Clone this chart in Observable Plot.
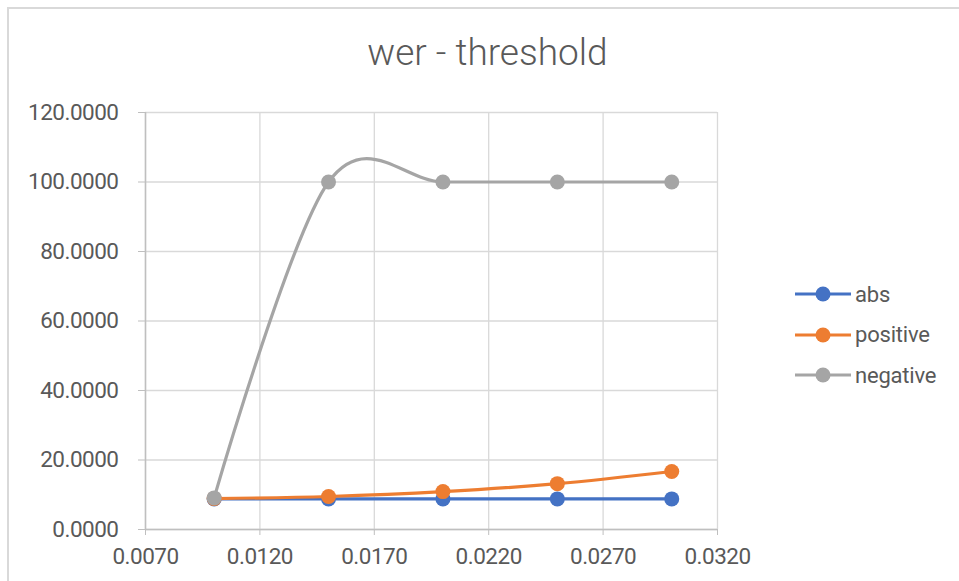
<!DOCTYPE html>
<html>
<head>
<meta charset="utf-8">
<script src="https://cdn.jsdelivr.net/npm/d3@7"></script>
<script src="https://cdn.jsdelivr.net/npm/@observablehq/plot@0.6"></script>
<style>
  html, body { margin: 0; padding: 0; background: #fff; }
  #wrap { position: relative; width: 959px; height: 581px; overflow: hidden; font-family: Roboto, "Noto Sans", sans-serif; }
  #frame { position: absolute; left: 7px; top: 7px; width: 1000px; height: 1000px; border-top: 2px solid #d9d9d9; border-left: 2px solid #d9d9d9; box-sizing: border-box; pointer-events: none; }
  #title { position: absolute; left: 0; width: 975px; top: 34px; line-height: 37px; text-align: center; font-size: 37px; color: #595959; font-weight: 300; }
  #legend { position: absolute; left: 795px; top: 274px; }
  .item { display: flex; align-items: center; height: 40.5px; font-size: 22px; color: #595959; letter-spacing: -0.2px; }
  .item svg { margin-right: 4px; }
  #chart { position: absolute; left: 0; top: 0; }
  #chart svg text { letter-spacing: -0.5px; }
</style>
</head>
<body>
<div id="wrap">
  <div id="chart"></div>
  <div id="frame"></div>
  <div id="title">wer - threshold</div>
  <div id="legend"></div>
</div>
<script>
const thresholds = [0.010, 0.015, 0.020, 0.025, 0.030];
const absValues = [8.8, 8.8, 8.8, 8.8, 8.8];
const positiveValues = [8.9, 9.5, 10.9, 13.2, 16.7];
const negativeValues = [9.1, 100, 100, 100, 100];
const seriesNames = ["abs", "positive", "negative"];
const seriesColors = ["#4472C4", "#ED7D31", "#A5A5A5"];
const xTicks = [0.007, 0.012, 0.017, 0.022, 0.027, 0.032];
const yTicks = [0, 20, 40, 60, 80, 100, 120];

const allSeries = [absValues, positiveValues, negativeValues];
const data = allSeries.flatMap((vals, i) =>
  vals.map((v, j) => ({series: seriesNames[i], x: thresholds[j], y: v}))
);

const marks = [
  Plot.gridX(xTicks, {stroke: "#d9d9d9", strokeOpacity: 1, strokeWidth: 1.3}),
  Plot.gridY(yTicks, {stroke: "#d9d9d9", strokeOpacity: 1, strokeWidth: 1.3}),
  Plot.axisX({ticks: xTicks, tickFormat: d3.format(".4f"), tickSize: 6, tickPadding: 13, stroke: "#bfbfbf", fill: "#595959", fontSize: 22.5, label: null}),
  Plot.axisY({ticks: yTicks, tickFormat: d3.format(".4f"), tickSize: 7, tickPadding: 20, stroke: "#bfbfbf", fill: "#595959", fontSize: 22.5, label: null}),
  Plot.ruleX([0.007], {stroke: "#bfbfbf", strokeWidth: 1.5}),
  Plot.ruleY([0], {stroke: "#bfbfbf", strokeWidth: 1.5})
];
seriesNames.forEach((name, i) => {
  const d = data.filter(p => p.series === name);
  marks.push(Plot.line(d, {x: "x", y: "y", stroke: seriesColors[i], strokeWidth: 3.2, curve: "cardinal", tension: 0}));
  marks.push(Plot.dot(d, {x: "x", y: "y", fill: seriesColors[i], r: 7.5}));
});

const chart = Plot.plot({
  width: 959,
  height: 581,
  marginLeft: 145,
  marginRight: 242,
  marginTop: 112,
  marginBottom: 52,
  style: {fontFamily: 'Roboto, "Noto Sans", sans-serif', background: "transparent"},
  x: {domain: [0.007, 0.032]},
  y: {domain: [0, 120]},
  marks
});
document.getElementById("chart").appendChild(chart);

const legend = document.getElementById("legend");
seriesNames.forEach((name, i) => {
  const item = document.createElement("div");
  item.className = "item";
  item.innerHTML = `<svg width="56" height="20"><line x1="0" x2="56" y1="10" y2="10" stroke="${seriesColors[i]}" stroke-width="3.2"/><circle cx="28" cy="10" r="7.5" fill="${seriesColors[i]}"/></svg><span>${name}</span>`;
  legend.appendChild(item);
});
</script>
</body>
</html>
